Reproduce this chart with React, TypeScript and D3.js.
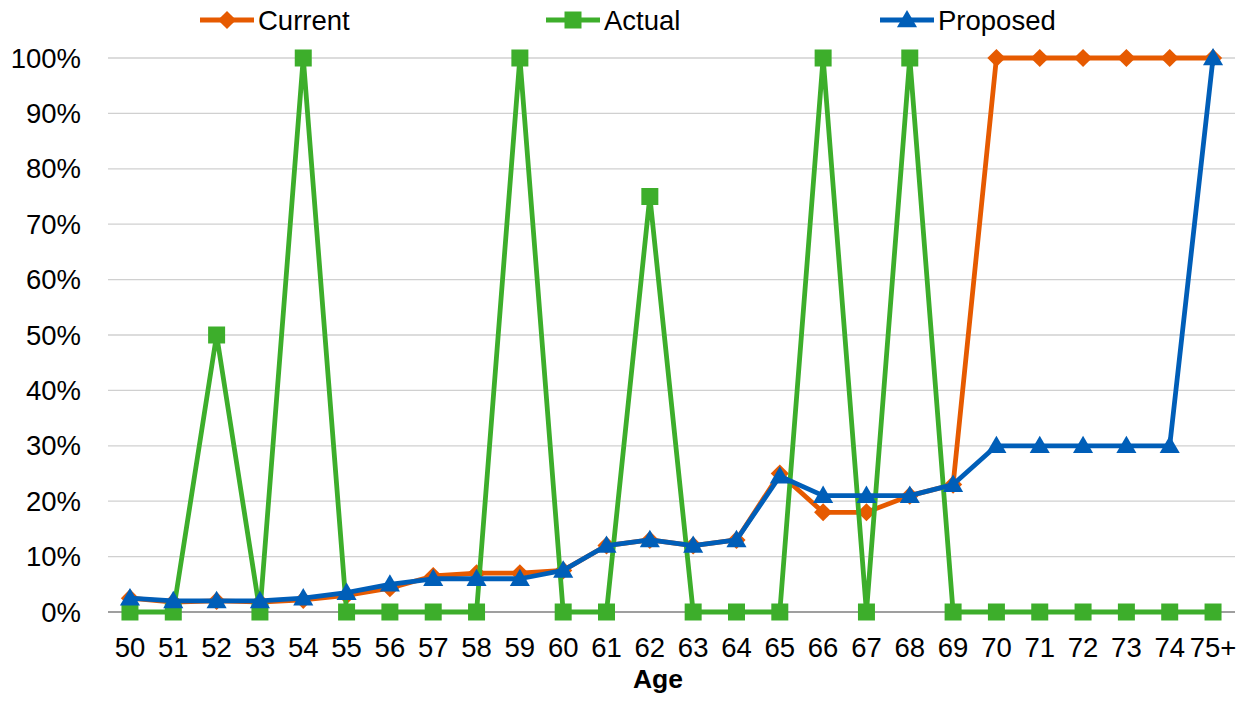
import { useEffect, useRef } from "react";
import * as d3 from "d3";

const ages = [
  "50", "51", "52", "53", "54", "55", "56", "57", "58", "59", "60", "61", "62",
  "63", "64", "65", "66", "67", "68", "69", "70", "71", "72", "73", "74", "75+",
];
const current = [
  2.5, 1.8, 2, 1.8, 2.2, 3, 4.3, 6.5, 7, 7, 7.5, 12, 13, 12, 13, 25, 18, 18, 21,
  23, 100, 100, 100, 100, 100, 100,
];
const actual = [
  0, 0, 50, 0, 100, 0, 0, 0, 0, 100, 0, 0, 75, 0, 0, 0, 100, 0, 100, 0, 0, 0, 0,
  0, 0, 0,
];
const proposed = [
  2.5, 2, 2, 2, 2.5, 3.5, 5, 6, 6, 6, 7.5, 12, 13, 12, 13, 24.5, 21, 21, 21, 23,
  30, 30, 30, 30, 30, 100,
];
const yTicks = [0, 10, 20, 30, 40, 50, 60, 70, 80, 90, 100];

const series = [
  { name: "Current", values: current, color: "#E65A00", marker: "diamond", legendX: 200 },
  { name: "Actual", values: actual, color: "#3DAE2B", marker: "square", legendX: 546 },
  { name: "Proposed", values: proposed, color: "#005EB8", marker: "triangle", legendX: 880 },
];

const W = 1247;
const H = 705;
const FONT = "'Liberation Sans', Arial, sans-serif";

export default function App() {
  const ref = useRef<SVGSVGElement>(null);

  useEffect(() => {
    const svg = d3.select(ref.current!);
    svg.selectAll("*").remove();

    const x = d3.scalePoint<string>().domain(ages).range([108.3, 1234.7]).padding(0.5);
    const y = d3.scaleLinear().domain([0, 100]).range([612, 58]);

    // gridlines
    svg
      .append("g")
      .selectAll("line")
      .data(yTicks.filter((t) => t > 0))
      .join("line")
      .attr("x1", 108)
      .attr("x2", 1235)
      .attr("y1", (d) => y(d))
      .attr("y2", (d) => y(d))
      .attr("stroke", "#d0d0d0")
      .attr("stroke-width", 1.3);

    // zero axis
    svg
      .append("line")
      .attr("x1", 108)
      .attr("x2", 1235)
      .attr("y1", y(0))
      .attr("y2", y(0))
      .attr("stroke", "#7f7f7f")
      .attr("stroke-width", 1.3);

    // y tick labels
    svg
      .append("g")
      .selectAll("text")
      .data(yTicks)
      .join("text")
      .attr("x", 81)
      .attr("y", (d) => y(d))
      .attr("dy", "0.35em")
      .attr("text-anchor", "end")
      .attr("font-family", FONT)
      .attr("font-size", 27.5)
      .attr("fill", "#000")
      .text((d) => `${d}%`);

    // x tick labels
    svg
      .append("g")
      .selectAll("text")
      .data(ages)
      .join("text")
      .attr("x", (d) => x(d)!)
      .attr("y", 657)
      .attr("text-anchor", "middle")
      .attr("font-family", FONT)
      .attr("font-size", 27.5)
      .attr("fill", "#000")
      .text((d) => d);

    svg
      .append("text")
      .attr("x", 658)
      .attr("y", 688)
      .attr("text-anchor", "middle")
      .attr("font-family", FONT)
      .attr("font-size", 26.5)
      .attr("font-weight", "bold")
      .text("Age");

    const markerPath = (m: string) => {
      if (m === "diamond") return d3.symbol(d3.symbolSquare, 165)()!;
      if (m === "square") return d3.symbol(d3.symbolSquare, 289)()!;
      return d3.symbol(d3.symbolTriangle, 175)()!;
    };
    const markerRot = (m: string) => (m === "diamond" ? " rotate(45)" : "");

    const line = d3
      .line<number>()
      .x((_, i) => x(ages[i])!)
      .y((d) => y(d));

    for (const s of series) {
      const g = svg.append("g");
      g.append("path")
        .attr("d", line(s.values)!)
        .attr("fill", "none")
        .attr("stroke", s.color)
        .attr("stroke-width", 4.8)
        .attr("stroke-linejoin", "round");
      g.selectAll("path.m")
        .data(s.values)
        .join("path")
        .attr("class", "m")
        .attr("d", markerPath(s.marker))
        .attr(
          "transform",
          (d, i) =>
            `translate(${x(ages[i])},${y(d) + (s.marker === "triangle" ? 1.5 : 0)})${markerRot(s.marker)}`
        )
        .attr("fill", s.color);

      // legend
      const lg = svg.append("g").attr("transform", `translate(${s.legendX},20)`);
      lg.append("line")
        .attr("x1", 0)
        .attr("x2", 54)
        .attr("y1", 0)
        .attr("y2", 0)
        .attr("stroke", s.color)
        .attr("stroke-width", 4.8);
      lg.append("path")
        .attr("d", markerPath(s.marker))
        .attr("transform", `translate(27,${s.marker === "triangle" ? 1.5 : 0})${markerRot(s.marker)}`)
        .attr("fill", s.color);
      lg.append("text")
        .attr("x", 58)
        .attr("y", 0)
        .attr("dy", "0.35em")
        .attr("font-family", FONT)
        .attr("font-size", 27.5)
        .attr("fill", "#000")
        .text(s.name);
    }
  }, []);

  return (
    <svg
      ref={ref}
      width={W}
      height={H}
      style={{ position: "absolute", left: 0, top: 0, background: "#fff" }}
    />
  );
}
